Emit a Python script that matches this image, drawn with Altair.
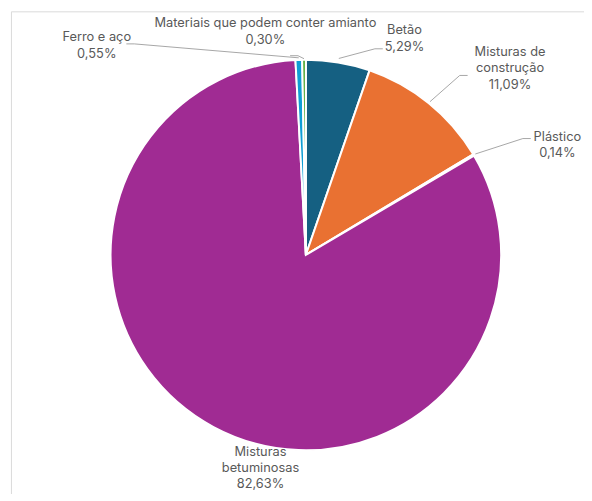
import math
import altair as alt
import pandas as pd

# data
categories = ["Betão", "Misturas de construção", "Plástico", "Misturas betuminosas",
              "Ferro e aço", "Materiais que podem conter amianto"]
values = [5.29, 11.09, 0.14, 82.63, 0.55, 0.30]
colors = ["#156082", "#E97132", "#196B24", "#A02B93", "#0F9ED5", "#4EA72E"]
label_lines = [
    ["Betão", "5,29%"],
    ["Misturas de", "construção", "11,09%"],
    ["Plástico", "0,14%"],
    ["Misturas", "betuminosas", "82,63%"],
    ["Ferro e aço", "0,55%"],
    ["Materiais que podem conter amianto", "0,30%"],
]

# layout (view pixel coords)
W, H = 584, 486
CX, CY, R = 302, 247, 198
label_pos = [(402, 19), (509, 41), (557, 127), (256, 447), (90, 26), (261, 12)]
line_h = [17, 17, 17, 16, 17, 17]
# leader anchors (label side) and stub direction; None = no leader
leader_anchor = [(380, 38, -1), (466, 65, -1), (530, 129, -1), None, (120, 33, 1), (286, 45, 1)]
leader_radius = [4, 2, 2, 0, 2, 1]

df = pd.DataFrame({"cat": categories, "value": values, "ord": list(range(len(values)))})

pie = alt.Chart(df).mark_arc(radius=R, stroke="white", strokeWidth=2).encode(
    theta=alt.Theta("value:Q", stack=True),
    color=alt.Color("cat:N", scale=alt.Scale(domain=categories, range=colors), legend=None),
    order=alt.Order("ord:Q"),
    x=alt.value(CX),
    y=alt.value(CY),
)

# text rows
rows = []
for (lx, ly), lh, lines in zip(label_pos, line_h, label_lines):
    for i, t in enumerate(lines):
        rows.append({"t": t, "x": lx, "y": ly + i * lh})
tdf = pd.DataFrame(rows)
texts = alt.Chart(tdf).mark_text(font="Inter", fontSize=13, color="#595959",
                                 align="center", baseline="middle").encode(
    x=alt.X("x:Q", scale=None), y=alt.Y("y:Q", scale=None), text="t:N")

# leader lines from slice mid angles
total = sum(values)
segs = []
cum = 0.0
for v, anc, dr in zip(values, leader_anchor, leader_radius):
    mid = (cum + v / 2) / total * 2 * math.pi
    cum += v
    if anc is None:
        continue
    ax, ay, d = anc
    px = CX + (R + dr) * math.sin(mid)
    py = CY - (R + dr) * math.cos(mid)
    sx = ax + d * 8
    segs.append({"x": ax, "y": ay, "x2": sx, "y2": ay})
    segs.append({"x": sx, "y": ay, "x2": px, "y2": py})
ldf = pd.DataFrame(segs)
leaders = alt.Chart(ldf).mark_rule(color="#A6A6A6", strokeWidth=1).encode(
    x=alt.X("x:Q", scale=None), y=alt.Y("y:Q", scale=None),
    x2="x2:Q", y2="y2:Q")

frame = alt.Chart(pd.DataFrame({"a": [0]})).mark_rect(
    fill="white", stroke="#D9D9D9", strokeWidth=1).encode(
    x=alt.value(3.5), x2=alt.value(640), y=alt.value(0.5), y2=alt.value(640))

chart = alt.layer(frame, pie, leaders, texts).properties(
    width=W, height=H, padding=0, autosize="none"
).configure_view(stroke=None)

chart.save("out.html", embed_options={"renderer": "svg", "actions": False})
